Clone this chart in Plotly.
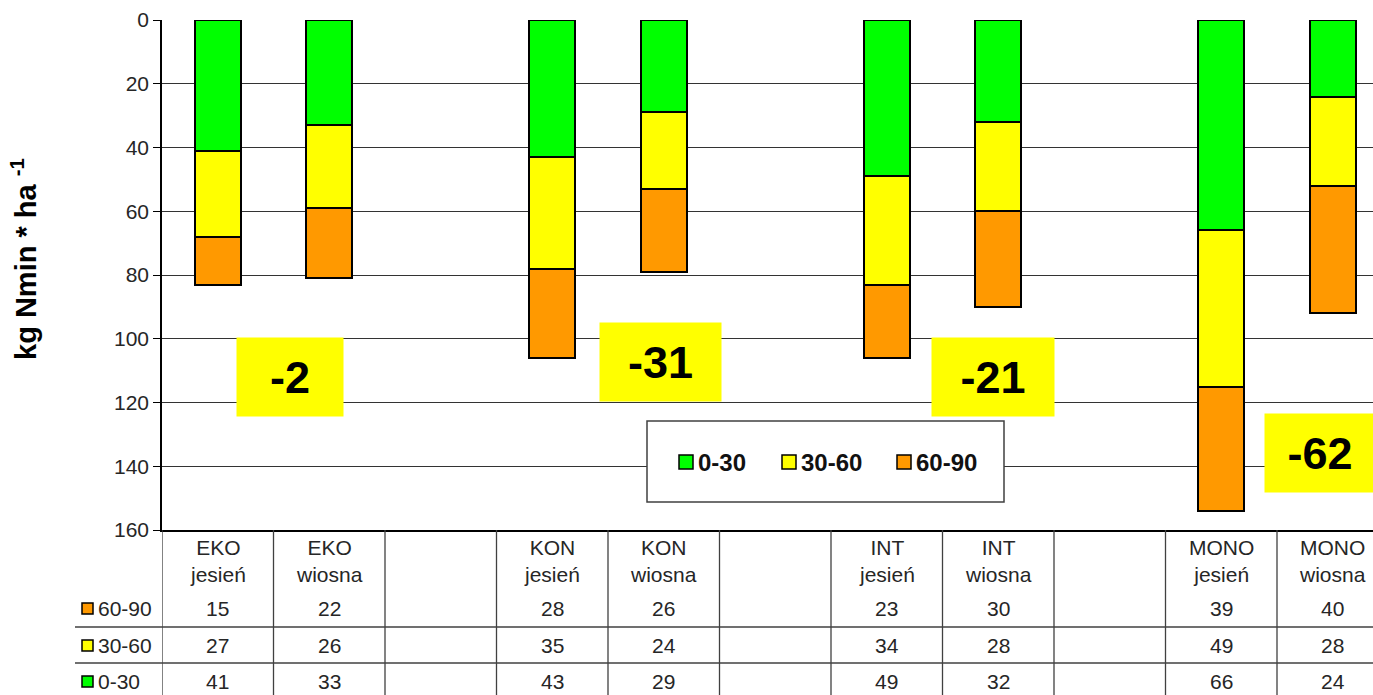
import plotly.graph_objects as go

# Soil mineral nitrogen by layer (kg Nmin/ha), autumn vs spring per system
categories = ["EKO<br>jesień", "EKO<br>wiosna", "KON<br>jesień", "KON<br>wiosna",
              "INT<br>jesień", "INT<br>wiosna", "MONO<br>jesień", "MONO<br>wiosna"]
slots = [0, 1, 3, 4, 6, 7, 9, 10]          # category slots, gaps between systems
layer_names = ["0-30", "30-60", "60-90"]
layer_0_30 = [41, 33, 43, 29, 49, 32, 66, 24]
layer_30_60 = [27, 26, 35, 24, 34, 28, 49, 28]
layer_60_90 = [15, 22, 28, 26, 23, 30, 39, 40]
layer_colors = ["#00FF00", "#FFFF00", "#FF9900"]

# Spring-minus-autumn change labels per system
change_labels = ["-2", "-31", "-21", "-62"]
change_pos = [(0.648, 112.0, 106), (3.971, 107.3, 121), (6.953, 112.0, 122), (9.886, 135.8, 110)]

FONT = "Liberation Sans, Arial, sans-serif"
TXT = "#262626"

layers = [layer_0_30, layer_30_60, layer_60_90]

fig = go.Figure()
for name, vals, col in zip(layer_names, layers, layer_colors):
    fig.add_trace(go.Bar(
        x=slots, y=vals, name=name, width=0.41,
        marker=dict(color=col, line=dict(color="black", width=2)),
        showlegend=False,
    ))

W, H = 1373, 695
L, T, B = 162, 20, 165
plot_w = W - L
plot_h = H - T - B
slot_px = 111.5


def px_x(p):
    return (p - L) / plot_w


def px_y(p):
    return (T + plot_h - p) / plot_h


shapes = []
annotations = []

# Data table under the axis: vertical column dividers
for k in range(12):
    shapes.append(dict(type="line", xref="x", yref="paper",
                       x0=k - 0.5, x1=k - 0.5, y0=0, y1=px_y(695),
                       line=dict(color="#404040", width=1.3)))
# Horizontal row dividers
for p in (627, 663):
    shapes.append(dict(type="line", xref="paper", yref="paper",
                       x0=px_x(75), x1=1.0, y0=px_y(p), y1=px_y(p),
                       line=dict(color="#404040", width=1.3)))

# Column headings
for s, lab in zip(slots, categories):
    annotations.append(dict(xref="x", yref="paper", x=s, y=px_y(561),
                            text=lab, showarrow=False, xanchor="center", yanchor="middle",
                            font=dict(family=FONT, size=21, color=TXT)))

# Table rows (top row is the deepest layer)
row_y = {"60-90": 608, "30-60": 645, "0-30": 681}
for name, vals, col in zip(layer_names, layers, layer_colors):
    yc = row_y[name]
    for s, v in zip(slots, vals):
        annotations.append(dict(xref="x", yref="paper", x=s, y=px_y(yc),
                                text=str(v), showarrow=False, xanchor="center", yanchor="middle",
                                font=dict(family=FONT, size=21, color=TXT)))
    shapes.append(dict(type="rect", xref="paper", yref="paper",
                       x0=px_x(82), x1=px_x(93), y0=px_y(yc - 5), y1=px_y(yc + 6),
                       fillcolor=col, line=dict(color="black", width=1.5)))
    annotations.append(dict(xref="paper", yref="paper", x=px_x(96), y=px_y(yc),
                            text=name, showarrow=False, xanchor="left", yanchor="middle",
                            font=dict(family=FONT, size=21, color=TXT)))

# Legend box inside the plot
shapes.append(dict(type="rect", xref="paper", yref="paper",
                   x0=px_x(647), x1=px_x(1004), y0=px_y(502), y1=px_y(421),
                   fillcolor="white", line=dict(color="#404040", width=1.5), layer="above"))
leg_key_x = [679, 782, 897]
for name, col, kx in zip(layer_names, layer_colors, leg_key_x):
    shapes.append(dict(type="rect", xref="paper", yref="paper",
                       x0=px_x(kx), x1=px_x(kx + 14), y0=px_y(469), y1=px_y(455),
                       fillcolor=col, line=dict(color="black", width=1.5), layer="above"))
    annotations.append(dict(xref="paper", yref="paper", x=px_x(kx + 17), y=px_y(462),
                            text="<b>" + name + "</b>", showarrow=False,
                            xanchor="left", yanchor="middle",
                            font=dict(family=FONT, size=24, color="#111")))

# Change labels in yellow boxes
for lab, (xc, yc, w) in zip(change_labels, change_pos):
    annotations.append(dict(xref="x", yref="y", x=xc, y=yc,
                            text="<b>" + lab + "</b>", showarrow=False,
                            xanchor="center", yanchor="middle",
                            width=w, height=78, borderpad=0, bgcolor="#FFFF00",
                            font=dict(family=FONT, size=45, color="black")))

# Y-axis title
annotations.append(dict(xref="paper", yref="paper", x=px_x(24), y=px_y(259),
                        text="<b>kg Nmin * ha <sup>-1</sup></b>", showarrow=False,
                        textangle=-90, xanchor="center", yanchor="middle",
                        font=dict(family=FONT, size=29, color="black")))

fig.update_layout(
    width=W, height=H,
    margin=dict(l=L, r=0, t=T, b=B),
    plot_bgcolor="white", paper_bgcolor="white",
    barmode="stack", bargap=0,
    showlegend=False,
    shapes=shapes, annotations=annotations,
    font=dict(family=FONT, color=TXT),
)
fig.update_xaxes(range=[-0.5, -0.5 + plot_w / slot_px], showticklabels=False,
                 showgrid=False, zeroline=False, showline=True,
                 linecolor="black", linewidth=1.5, ticks="")
fig.update_yaxes(range=[160, 0], tickvals=[0, 20, 40, 60, 80, 100, 120, 140, 160],
                 showgrid=True, gridcolor="#333333", gridwidth=1.2,
                 zeroline=False, showline=True, linecolor="black", linewidth=1.5,
                 ticks="outside", ticklen=7, tickcolor="black",
                 tickfont=dict(family=FONT, size=21, color=TXT))

fig.write_html("out.html")
